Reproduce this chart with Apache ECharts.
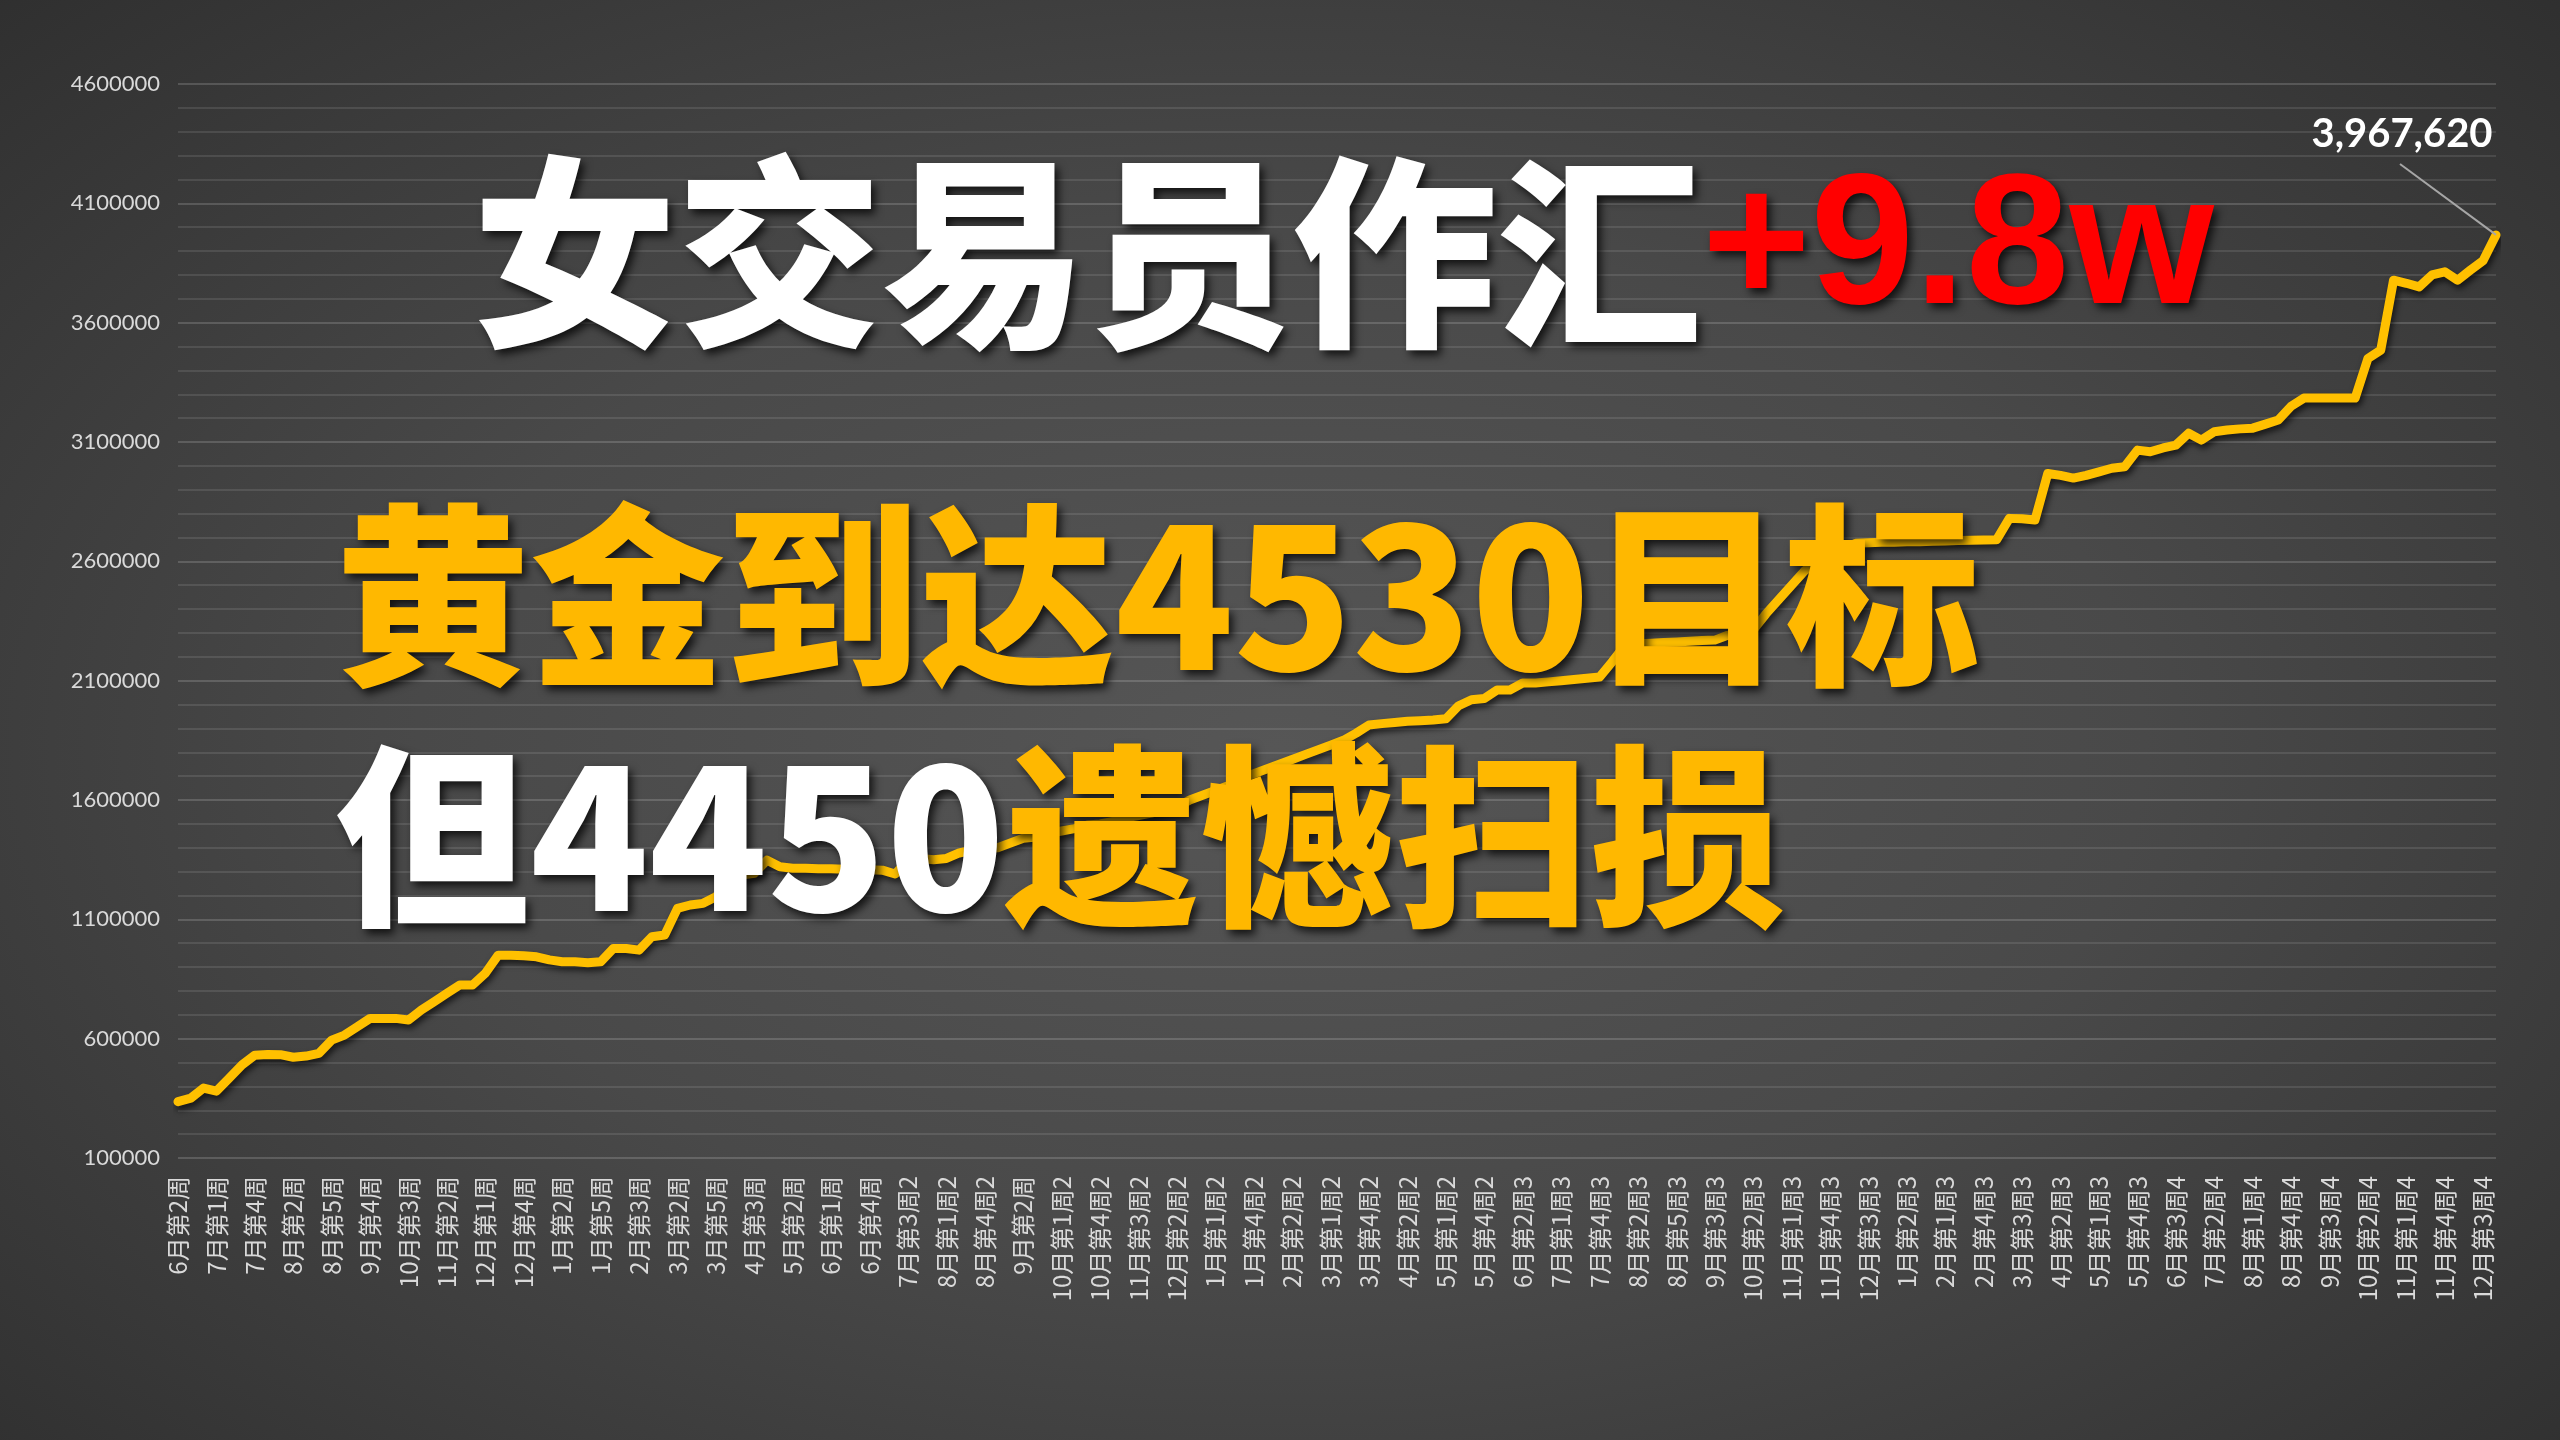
<!DOCTYPE html>
<html>
<head>
<meta charset="utf-8">
<script src="https://cdn.jsdelivr.net/npm/echarts@6/dist/echarts.min.js"></script>
<style>
html,body{margin:0;padding:0;width:2560px;height:1440px;overflow:hidden;}
#chart{width:2560px;height:1440px;background:radial-gradient(ellipse 75% 80% at 50% 52%, #565656 0%, #494949 45%, #2c2c2c 100%);}
</style>
</head>
<body>
<div id="chart"></div>
<script>
const weeks = [
'6月第2周','6月第3周','6月第4周','7月第1周','7月第2周','7月第3周','7月第4周','7月第5周','8月第1周','8月第2周',
'8月第3周','8月第4周','8月第5周','9月第2周','9月第3周','9月第4周','10月第1周','10月第2周','10月第3周','10月第4周',
'11月第1周','11月第2周','11月第3周','11月第4周','12月第1周','12月第2周','12月第3周','12月第4周','12月第5周','1月第1周',
'1月第2周','1月第3周','1月第4周','1月第5周','2月第1周','2月第2周','2月第3周','2月第4周','3月第1周','3月第2周',
'3月第3周','3月第4周','3月第5周','4月第1周','4月第2周','4月第3周','4月第4周','5月第1周','5月第2周','5月第3周',
'5月第4周','6月第1周','6月第2周','6月第3周','6月第4周','7月第1周2','7月第2周2','7月第3周2','7月第4周2','7月第5周2',
'8月第1周2','8月第2周2','8月第3周2','8月第4周2','8月第5周2','9月第1周2','9月第2周','9月第3周2','9月第4周2','10月第1周2',
'10月第2周2','10月第3周2','10月第4周2','11月第1周2','11月第2周2','11月第3周2','11月第4周2','12月第1周2','12月第2周2','12月第3周2',
'12月第4周2','1月第1周2','1月第2周2','1月第3周2','1月第4周2','1月第5周2','2月第1周2','2月第2周2','2月第3周2','2月第4周2',
'3月第1周2','3月第2周2','3月第3周2','3月第4周2','3月第5周2','4月第1周2','4月第2周2','4月第3周2','4月第4周2','5月第1周2',
'5月第2周2','5月第3周2','5月第4周2','5月第5周2','6月第1周3','6月第2周3','6月第3周3','6月第4周3','7月第1周3','7月第2周3',
'7月第3周3','7月第4周3','7月第5周3','8月第1周3','8月第2周3','8月第3周3','8月第4周3','8月第5周3','9月第1周3','9月第2周3',
'9月第3周3','9月第4周3','10月第1周3','10月第2周3','10月第3周3','10月第4周3','11月第1周3','11月第2周3','11月第3周3','11月第4周3',
'12月第1周3','12月第2周3','12月第3周3','12月第4周3','1月第1周3','1月第2周3','1月第3周3','1月第4周3','2月第1周3','2月第2周3',
'2月第3周3','2月第4周3','3月第1周3','3月第2周3','3月第3周3','3月第4周3','4月第1周3','4月第2周3','4月第3周3','4月第4周3',
'5月第1周3','5月第2周3','5月第3周3','5月第4周3','6月第1周4','6月第2周4','6月第3周4','6月第4周4','7月第1周4','7月第2周4',
'7月第3周4','7月第4周4','8月第1周4','8月第2周4','8月第3周4','8月第4周4','9月第1周4','9月第2周4','9月第3周4','9月第4周4',
'10月第1周4','10月第2周4','10月第3周4','10月第4周4','11月第1周4','11月第2周4','11月第3周4','11月第4周4','12月第1周4','12月第2周4',
'12月第3周4','12月第4周4'
];

const equity = [
336000,351000,393000,380000,435000,490000,531000,534000,533000,522000,
527000,538000,594000,615000,650000,685000,685000,685000,678000,720000,
755000,790000,825000,825000,874000,950000,950000,947000,943000,930000,
922000,922000,918000,922000,978000,978000,971000,1027000,1034000,1146000,
1160000,1167000,1195000,1237000,1286000,1293000,1348000,1320000,1314000,1314000,
1312000,1312000,1310000,1310000,1308000,1306000,1290000,1348000,1355000,1350000,
1355000,1378000,1390000,1395000,1400000,1420000,1440000,1445000,1460000,1470000,
1480000,1495000,1500000,1510000,1525000,1535000,1545000,1560000,1570000,1600000,
1620000,1640000,1660000,1690000,1710000,1730000,1750000,1770000,1790000,1810000,
1830000,1850000,1880000,1914000,1920000,1925000,1930000,1932000,1935000,1940000,
1995000,2020000,2025000,2061000,2061000,2090000,2090000,2095000,2100000,2105000,
2110000,2115000,2180000,2250000,2255000,2257000,2260000,2262000,2265000,2268000,
2270000,2290000,2300000,2312000,2380000,2440000,2500000,2560000,2600000,2610000,
2650000,2676000,2678000,2680000,2680000,2682000,2682000,2684000,2685000,2687000,
2688000,2689000,2690000,2780000,2778000,2773000,2968000,2960000,2949000,2960000,
2975000,2990000,2996000,3066000,3059000,3075000,3087000,3137000,3108000,3143000,
3150000,3155000,3158000,3175000,3192000,3250000,3284000,3284000,3284000,3284000,
3284000,3450000,3485000,3778000,3765000,3750000,3800000,3813000,3778000,3820000,
3860000,3967620
];

const yMin = 100000, yMax = 4600000, yStep = 500000;
const headline1 = ['女交易员作汇', '+9.8w'];
const headline2 = '黄金到达4530目标';
const headline3 = ['但4450', '遗憾扫损'];

const chart = echarts.init(document.getElementById('chart'), null, {renderer: 'canvas'});
const lastIdx = equity.length - 1;

const seriesData = equity.map((v, i) => {
  if (i === lastIdx) {
    return {
      value: v,
      label: {
        show: true,
        position: 'top',
        offset: [-94, -76],
        formatter: p => Number(p.value).toLocaleString('en-US'),
        color: '#ffffff',
        fontFamily: 'Lato',
        fontWeight: 'bold',
        fontSize: 40
      }
    };
  }
  return v;
});

const shadow = {textShadowColor: 'rgba(0,0,0,0.75)', textShadowBlur: 8, textShadowOffsetX: 4, textShadowOffsetY: 5};
const bigFont = {fontFamily: 'Noto Sans CJK SC', fontWeight: 900, fontSize: 205};
const midFont = {fontFamily: 'Noto Sans CJK SC', fontWeight: 900, fontSize: 195};

const option = {
  animation: false,
  backgroundColor: 'transparent',
  grid: {left: 178, right: 64, top: 84, bottom: 282, containLabel: false},
  xAxis: {
    type: 'category',
    data: weeks,
    boundaryGap: false,
    axisLine: {show: false},
    axisTick: {show: false},
    splitLine: {show: false},
    axisLabel: {
      interval: 2,
      rotate: 90,
      color: '#d9d9d9',
      fontFamily: 'Noto Sans CJK SC',
      fontSize: 24,
      margin: 18
    }
  },
  yAxis: {
    type: 'value',
    min: yMin,
    max: yMax,
    interval: yStep,
    axisLine: {show: false},
    axisTick: {show: false},
    axisLabel: {color: '#d9d9d9', fontFamily: 'Lato', fontSize: 22, margin: 18, formatter: v => String(v)},
    splitLine: {show: true, lineStyle: {color: 'rgba(255,255,255,0.16)', width: 2}},
    minorTick: {show: false, splitNumber: 5},
    minorSplitLine: {show: true, lineStyle: {color: 'rgba(255,255,255,0.10)', width: 2}}
  },
  series: [{
    type: 'line',
    data: seriesData,
    showSymbol: true,
    showAllSymbol: true,
    symbol: 'circle',
    symbolSize: 0,
    itemStyle: {color: '#FFC000'},
    lineStyle: {
      color: '#FFC000', width: 9, join: 'round', cap: 'round',
      shadowColor: 'rgba(0,0,0,0.65)', shadowBlur: 6, shadowOffsetX: 2, shadowOffsetY: 4
    },
    label: {show: false},
    labelLine: {show: false},
    markLine: {
      silent: true,
      symbol: ['none', 'none'],
      label: {show: false},
      lineStyle: {color: '#a6a6a6', width: 2, type: 'solid', shadowBlur: 0},
      data: [[{coord: [weeks[lastIdx], equity[lastIdx]]}, {x: 2400, y: 164}]]
    },
    z: 2
  }],
  graphic: [
    {
      type: 'text', x: 472, y: 252, z: 100,
      style: Object.assign({
        text: '{w|' + headline1[0] + '}{r|' + headline1[1] + '}',
        verticalAlign: 'middle', align: 'left',
        rich: {
          w: Object.assign({fill: '#ffffff'}, bigFont, shadow),
          r: Object.assign({fill: '#ff0000'}, bigFont, {fontFamily: 'Liberation Sans', fontWeight: 'bold', fontSize: 186}, shadow)
        }
      }, bigFont, shadow)
    },
    {
      type: 'text', x: 335, y: 596, z: 100,
      style: Object.assign({
        text: headline2, fill: '#FFB800', verticalAlign: 'middle', align: 'left'
      }, midFont, shadow)
    },
    {
      type: 'text', x: 335, y: 837, z: 100,
      style: Object.assign({
        text: '{w|' + headline3[0] + '}{y|' + headline3[1] + '}',
        verticalAlign: 'middle', align: 'left',
        rich: {
          w: Object.assign({fill: '#ffffff'}, midFont, shadow),
          y: Object.assign({fill: '#FFB800'}, midFont, shadow)
        }
      }, midFont, shadow)
    }
  ]
};
chart.setOption(option);
</script>
</body>
</html>
